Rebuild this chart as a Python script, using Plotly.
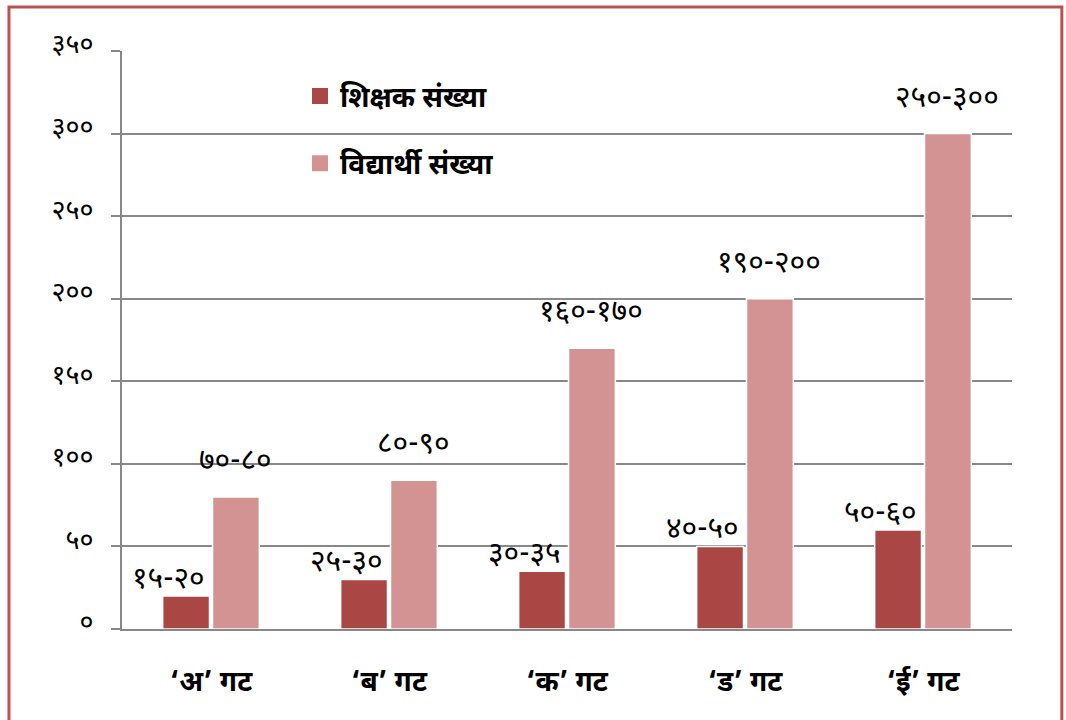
import plotly.graph_objects as go

TEACHER = "#AA4745"
STUDENT = "#D29392"
GRID = "#888888"
FONT = "Noto Sans Devanagari, Lohit Devanagari, Mangal, Noto Sans, sans-serif"

groups = ["‘अ’ गट", "‘ब’ गट", "‘क’ गट", "‘ड’ गट", "‘ई’ गट"]
teachers = [20, 30, 35, 50, 60]
students = [80, 90, 170, 200, 300]
teacher_labels = ["१५-२०", "२५-३०", "३०-३५", "४०-५०", "५०-६०"]
student_labels = ["७०-८०", "८०-९०", "१६०-१७०", "१९०-२००", "२५०-३००"]
tick_vals = [0, 50, 100, 150, 200, 250, 300, 350]
tick_text = ["०", "५०", "१००", "१५०", "२००", "२५०", "३००", "३५०"]
series_names = ["शिक्षक संख्या", "विद्यार्थी संख्या"]

fig = go.Figure()
fig.add_trace(go.Bar(
    x=groups, y=teachers, name=series_names[0], showlegend=False,
    marker=dict(color=TEACHER, line=dict(color="white", width=1.5)),
))
fig.add_trace(go.Bar(
    x=groups, y=students, name=series_names[1], showlegend=False,
    marker=dict(color=STUDENT, line=dict(color="white", width=1.5)),
))
# legend entries with bigger square swatches
for name, col, grp in zip(series_names, [TEACHER, STUDENT], ["t", "s"]):
    fig.add_trace(go.Scatter(
        x=[None], y=[None], mode="markers", name=name, legendgroup=grp,
        marker=dict(symbol="square", size=16, color=col),
    ))

for g, v, lab in zip(groups, teachers, teacher_labels):
    fig.add_annotation(x=g, y=v, text=lab, showarrow=False, xshift=-43, yshift=-6,
                       yanchor="bottom", font=dict(size=30, color="black", family=FONT))
for g, v, lab in zip(groups, students, student_labels):
    fig.add_annotation(x=g, y=v, text=lab, showarrow=False, xshift=24, yshift=13,
                       yanchor="bottom", font=dict(size=30, color="black", family=FONT))

# red frame round the whole chart
fig.add_shape(type="rect", xref="paper", yref="paper", x0=-0.127, x1=1.056, y0=-0.3, y1=1.076,
              line=dict(color="#C0504D", width=3), layer="below")

fig.update_layout(
    barmode="group", bargap=0.44, bargroupgap=0.06,
    width=1066, height=720,
    margin=dict(l=122, r=54, t=51, b=91, autoexpand=False),
    paper_bgcolor="white", plot_bgcolor="white",
    font=dict(family=FONT, color="black"),
    showlegend=True,
    legend=dict(x=0.2, y=0.965, xanchor="left", yanchor="top", bgcolor="rgba(0,0,0,0)",
                font=dict(size=28, family=FONT, weight="bold"), traceorder="grouped",
                tracegroupgap=28, itemsizing="trace"),
    xaxis=dict(showline=True, linecolor=GRID, linewidth=2, ticks="", showgrid=False,
               automargin=False,
               tickfont=dict(size=28, family=FONT, weight="bold"), ticklabelstandoff=26),
    yaxis=dict(range=[0, 350], tickvals=tick_vals, ticktext=tick_text, automargin=False,
               showgrid=True, gridcolor=GRID, gridwidth=1.5, zeroline=False,
               showline=True, linecolor=GRID, linewidth=2,
               ticks="outside", ticklen=9, tickcolor=GRID, tickwidth=1.5,
               tickfont=dict(size=27, family=FONT), ticklabelstandoff=12, ticklabelshift=-7),
)

fig.write_html("out.html", config={"displayModeBar": False},
               post_script="document.body.style.margin='0';")
